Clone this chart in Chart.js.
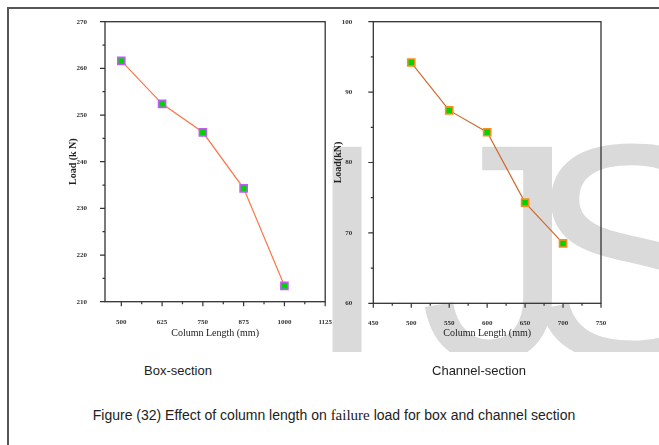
<!DOCTYPE html>
<html>
<head>
<meta charset="utf-8">
<script src="https://cdn.jsdelivr.net/npm/chart.js@4"></script>
<style>
  body { margin: 0; background: #fff; width: 659px; height: 445px; overflow: hidden; position: relative; }
  #frame { position: absolute; left: 7px; top: 7px; width: 660px; height: 450px; border-left: 2px solid #555; border-top: 2px solid #555; }
  #mark { position: absolute; left: 0; top: 0; width: 659px; height: 352px; overflow: hidden; }
  #mark span { position: absolute; top: 98px; font-family: "Liberation Sans", Arial, sans-serif; font-size: 310px; line-height: 1; color: #dadada; }
  .cv { position: absolute; top: 0; }
  .lbl { position: absolute; font-family: "Liberation Sans", Arial, sans-serif; font-size: 13px; color: #222; white-space: nowrap; transform: translate(-50%, -50%); }
  .cap { font-size: 14px; }
  .lbl .odd { font-family: "Liberation Serif", serif; font-size: 15px; }
</style>
</head>
<body>
<div id="frame"></div>
<div id="mark"><span style="left:304px">I</span><span style="left:420px">J</span><span style="left:527px">S</span></div>
<div class="cv" style="left:40px;width:300px;height:345px"><canvas id="boxChart"></canvas></div>
<div class="cv" style="left:310px;width:349px;height:345px"><canvas id="channelChart"></canvas></div>
<div class="lbl" style="left:178px;top:370px">Box-section</div>
<div class="lbl" style="left:479px;top:370px">Channel-section</div>
<div class="lbl cap" style="left:334px;top:415px">Figure (32) Effect of column length on <span class="odd">failure</span> load for box and channel section</div>
<script>
// box section
const boxLength = [500, 625, 750, 875, 1000]
const boxLoad = [261.6, 252.4, 246.3, 234.3, 213.4]
// channel section
const channelLength = [500, 550, 600, 650, 700]
const channelLoad = [94.2, 87.4, 84.3, 74.3, 68.5]

const tickFont = { family: '"Liberation Serif", serif', size: 7, weight: 'bold' }
const titleFont = { family: '"Liberation Serif", serif', size: 10 }

// frame round the plot + origin style ticks (long major, short minor)
const framePlugin = {
    id: 'frame',
    afterDraw(chart) {
        const ctx = chart.ctx
        const a = chart.chartArea
        ctx.save()
        ctx.strokeStyle = '#333'
        ctx.lineWidth = 1.3
        ctx.strokeRect(a.left, a.top, a.right - a.left, a.bottom - a.top)
        ctx.lineWidth = 1.2
        ctx.beginPath()
        chart.scales.x.ticks.forEach((t) => {
            const px = chart.scales.x.getPixelForValue(t.value)
            const len = t.label !== '' ? 4.5 : 2.5
            ctx.moveTo(px, a.bottom)
            ctx.lineTo(px, a.bottom + len)
        })
        chart.scales.y.ticks.forEach((t) => {
            const py = chart.scales.y.getPixelForValue(t.value)
            const len = t.label !== '' ? 5 : 2.5
            ctx.moveTo(a.left, py)
            ctx.lineTo(a.left - len, py)
        })
        ctx.stroke()
        ctx.restore()
    }
}

function makeChart(id, xs, ys, o) {
    var ctx = document.getElementById(id).getContext('2d')
    return new Chart(ctx, {
        type: 'line',
        data: {
            datasets: [{
                data: xs.map((x, i) => ({ x: x, y: ys[i] })),
                borderColor: o.line,
                borderWidth: 1.2,
                pointStyle: 'rect',
                pointRadius: 5,
                pointBackgroundColor: '#00d400',
                pointBorderColor: o.marker,
                pointBorderWidth: 1.6,
                tension: 0,
                fill: false,
            }]
        },
        options: {
            responsive: true,
            maintainAspectRatio: false,
            animation: false,
            layout: { padding: { top: 21.7, right: o.right, left: 0, bottom: 0 } },
            plugins: { legend: { display: false }, tooltip: { enabled: false } },
            scales: {
                x: {
                    type: 'linear',
                    min: o.xMin, max: o.xMax,
                    grid: { display: false },
                    border: { display: false },
                    afterFit: (s) => { s.height = o.xH },
                    ticks: {
                        stepSize: o.xStep, autoSkip: false, maxRotation: 0, includeBounds: false,
                        padding: 8, color: '#333', font: tickFont,
                        callback: (v) => (v - o.xBase) % o.xMajor === 0 ? String(v) : '',
                    },
                    title: { display: true, text: 'Column Length (mm)', color: '#222', font: titleFont, padding: { top: 0, bottom: 6 } },
                },
                y: {
                    min: o.yMin, max: o.yMax,
                    grid: { display: false },
                    border: { display: false },
                    afterFit: (s) => { s.width = o.yW },
                    ticks: {
                        stepSize: 5, autoSkip: false,
                        padding: o.yPad, color: '#333', font: tickFont,
                        callback: (v) => v % 10 === 0 ? String(v) : '',
                    },
                    title: { display: true, text: o.yTitle, color: '#222', font: { family: titleFont.family, size: 10, weight: 'bold' }, padding: { top: o.yTitlePad, bottom: 0 } },
                },
            }
        },
        plugins: [framePlugin]
    })
}

makeChart('boxChart', boxLength, boxLoad, {
    line: '#ff7448', marker: '#c05cf5',
    xMin: 450, xMax: 1125, xStep: 62.5, xBase: 500, xMajor: 125,
    yMin: 210, yMax: 270, yW: 65, yPad: 10, xH: 43.3, right: 14.3,
    yTitle: 'Load (k N)', yTitlePad: 27,
})

makeChart('channelChart', channelLength, channelLoad, {
    line: '#d0692c', marker: '#ff8a1e',
    xMin: 450, xMax: 750, xStep: 25, xBase: 450, xMajor: 50,
    yMin: 60, yMax: 100, yW: 63.3, yPad: 13, xH: 41.7, right: 58,
    yTitle: 'Load(kN)', yTitlePad: 22.5,
})
</script>
</body>
</html>
